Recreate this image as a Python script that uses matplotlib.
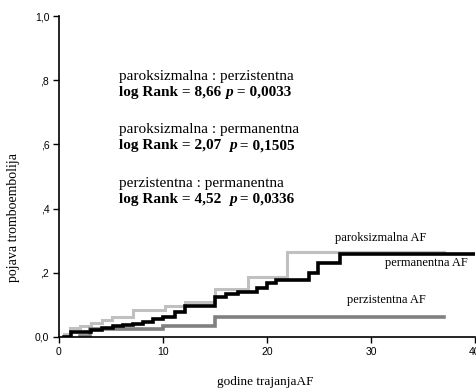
import matplotlib
matplotlib.use('Agg')
import matplotlib.pyplot as plt

# step curves (x = start of step, y = value after step)
para_x = [0, 0.5, 1.1, 2.0, 3.1, 4.1, 5.1, 7.1, 10.2, 12.1, 15.0, 18.2, 21.9, 37]
para_y = [0, 0.008, 0.028, 0.034, 0.045, 0.053, 0.063, 0.084, 0.096, 0.108, 0.149, 0.188, 0.266, 0.266]

perm_x = [0.5, 1.2, 3.1, 4.1, 5.2, 6.2, 7.1, 8.1, 9.0, 10.0, 11.2, 12.1, 15.0, 16.1, 17.2,
          19.0, 20.0, 20.9, 24.0, 24.9, 27.0, 40]
perm_y = [0, 0.017, 0.022, 0.029, 0.033, 0.037, 0.042, 0.048, 0.055, 0.063, 0.078, 0.097, 0.124,
          0.133, 0.140, 0.152, 0.167, 0.178, 0.200, 0.230, 0.259, 0.259]

pers_x = [2.0, 3.0, 10.0, 15.0, 37]
pers_y = [0.003, 0.026, 0.034, 0.063, 0.063]

yticks = [0, 0.2, 0.4, 0.6, 0.8, 1.0]
ytick_labels = ['0,0', ',2', ',4', ',6', ',8', '1,0']
xticks = [0, 10, 20, 30, 40]

stats = [('paroksizmalna : perzistentna', 'log Rank = 8,66 ', ' = 0,0033'),
         ('paroksizmalna : permanentna', 'log Rank = 2,07  ', ' = 0,1505'),
         ('perzistentna : permanentna', 'log Rank = 4,52  ', ' = 0,0336')]

serif = 'Liberation Serif'
sans = 'Liberation Sans'

fig = plt.figure(figsize=(4.77, 3.92), dpi=100)
ax = fig.add_axes([59/477, 1 - 337/392, 416/477, 321/392])

ax.step(para_x, para_y, where='post', color='#c0c0c0', lw=2.2, solid_joinstyle='miter')
ax.step(pers_x, pers_y, where='post', color='#808080', lw=2.6, solid_joinstyle='miter')
ax.step(perm_x, perm_y, where='post', color='black', lw=2.6, solid_joinstyle='miter')

ax.set_xlim(0, 40)
ax.set_ylim(0, 1.0)
ax.spines['top'].set_visible(False)
ax.spines['right'].set_visible(False)
ax.spines['left'].set_linewidth(1.2)
ax.spines['bottom'].set_linewidth(1.2)
ax.set_yticks(yticks)
ax.set_yticklabels(ytick_labels, fontfamily=sans, fontsize=7.5)
ax.set_xticks(xticks)
ax.set_xticklabels([str(v) for v in xticks], fontfamily=sans, fontsize=7.5)
ax.tick_params(direction='out', length=4, width=1, pad=3)

# comparison texts
y0 = 0.813
for i, (title, lr, pv) in enumerate(stats):
    yy = y0 - i * 0.167
    ax.text(5.75, yy, title, fontfamily=serif, fontsize=11, va='center')
    t1 = ax.text(5.75, yy - 0.05, lr, fontfamily=serif, fontsize=11, fontweight='bold', va='center')
    t2 = ax.annotate('p', xy=(1, 0), xycoords=t1, va='bottom', fontfamily=serif,
                     fontsize=11, fontweight='bold', fontstyle='italic')
    ax.annotate(pv, xy=(1, 0), xycoords=t2, va='bottom', fontfamily=serif,
                fontsize=11, fontweight='bold')

# curve labels
ax.text(26.5, 0.307, 'paroksizmalna AF', fontfamily=serif, fontsize=9, va='center')
ax.text(31.3, 0.23, 'permanentna AF', fontfamily=serif, fontsize=9, va='center')
ax.text(27.7, 0.115, 'perzistentna AF', fontfamily=serif, fontsize=9, va='center')

fig.text(14/477, 1 - 218/392, 'pojava tromboembolija', rotation=90, ha='center', va='center',
         fontfamily=serif, fontsize=10)
fig.text(265/477, 1 - 382/392, 'godine trajanjaAF', ha='center', va='center',
         fontfamily=serif, fontsize=9.5)

fig.savefig('out.png', dpi=100)
